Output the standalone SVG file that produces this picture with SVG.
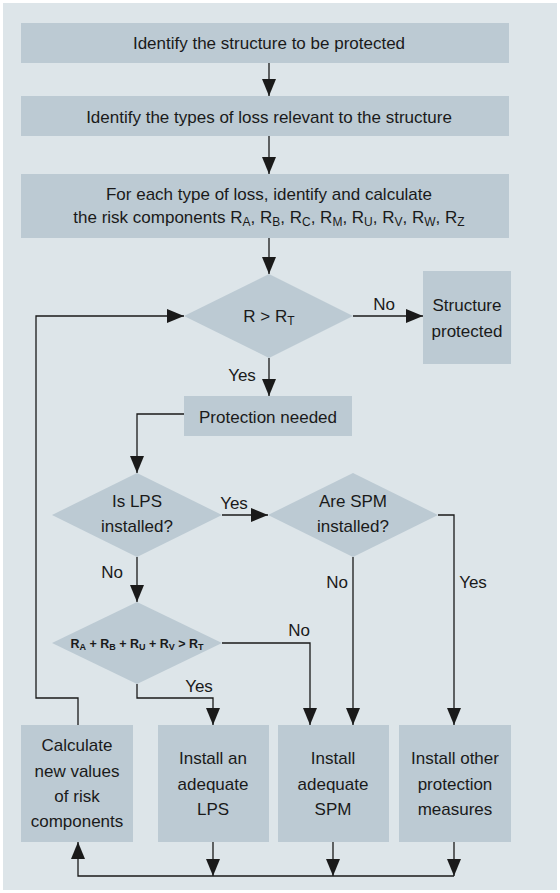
<svg xmlns="http://www.w3.org/2000/svg" width="560" height="893" viewBox="0 0 560 893">
<style>
.box{fill:#bccad3}
.t{font-family:"Liberation Sans",Arial,sans-serif;font-size:17px;fill:#1a1a1a;text-anchor:middle}
.f{font-family:"Liberation Sans",Arial,sans-serif;font-size:12.5px;font-weight:bold;fill:#1a1a1a;text-anchor:middle}
.ln{fill:none;stroke:#1a1a1a;stroke-width:1.3}
.a{marker-end:url(#ah)}
</style>
<defs>
<marker id="ah" markerUnits="userSpaceOnUse" markerWidth="17" markerHeight="14" refX="17" refY="7" orient="auto">
<path d="M0,0 L17,7 L0,14 z" fill="#1a1a1a"/>
</marker>
</defs>
<rect x="3" y="3" width="554" height="887" fill="#dde5e9"/>

<g id="n1"><rect class="box" x="21" y="23" width="488" height="40"/>
<text class="t" x="269" y="49">Identify the structure to be protected</text></g>
<g id="n2"><rect class="box" x="21" y="96" width="488" height="40"/>
<text class="t" x="269" y="123">Identify the types of loss relevant to the structure</text></g>
<g id="n3"><rect class="box" x="21" y="174" width="488" height="64"/>
<text class="t" x="269" y="200">For each type of loss, identify and calculate</text>
<text class="t" x="269" y="223">the risk components R<tspan font-size="12" dy="3">A</tspan><tspan dy="-3">, R</tspan><tspan font-size="12" dy="3">B</tspan><tspan dy="-3">, R</tspan><tspan font-size="12" dy="3">C</tspan><tspan dy="-3">, R</tspan><tspan font-size="12" dy="3">M</tspan><tspan dy="-3">, R</tspan><tspan font-size="12" dy="3">U</tspan><tspan dy="-3">, R</tspan><tspan font-size="12" dy="3">V</tspan><tspan dy="-3">, R</tspan><tspan font-size="12" dy="3">W</tspan><tspan dy="-3">, R</tspan><tspan font-size="12" dy="3">Z</tspan></text></g>
<g id="d1"><polygon class="box" points="269,274 353,316 269,358 184,316"/>
<text class="t" x="269" y="322">R &gt; R<tspan font-size="12" dy="3">T</tspan></text></g>
<g id="n4"><rect class="box" x="423" y="271" width="88" height="93"/>
<text class="t" x="467" y="311">Structure</text>
<text class="t" x="467" y="337">protected</text></g>
<g id="n5"><rect class="box" x="184" y="396" width="168" height="40"/>
<text class="t" x="268" y="423">Protection needed</text></g>
<g id="d2"><polygon class="box" points="137,473 222,515 137,557 52,515"/>
<text class="t" x="137" y="507">Is LPS</text>
<text class="t" x="137" y="532">installed?</text></g>
<g id="d3"><polygon class="box" points="353,473 438,515 353,557 268,515"/>
<text class="t" x="353" y="507">Are SPM</text>
<text class="t" x="353" y="532">installed?</text></g>
<g id="d4"><polygon class="box" points="137,602 222,643 137,684 52,643"/>
<text class="f" x="137" y="648">R<tspan font-size="9" dy="2">A</tspan><tspan dy="-2"> + R</tspan><tspan font-size="9" dy="2">B</tspan><tspan dy="-2"> + R</tspan><tspan font-size="9" dy="2">U</tspan><tspan dy="-2"> + R</tspan><tspan font-size="9" dy="2">V</tspan><tspan dy="-2"> &gt; R</tspan><tspan font-size="9" dy="2">T</tspan></text></g>
<g id="n6"><rect class="box" x="21" y="725" width="112" height="117"/>
<text class="t" x="77" y="751">Calculate</text>
<text class="t" x="77" y="777">new values</text>
<text class="t" x="77" y="802">of risk</text>
<text class="t" x="77" y="827">components</text></g>
<g id="n7"><rect class="box" x="158" y="725" width="111" height="117"/>
<text class="t" x="213" y="764">Install an</text>
<text class="t" x="213" y="790">adequate</text>
<text class="t" x="213" y="815">LPS</text></g>
<g id="n8"><rect class="box" x="278" y="725" width="111" height="117"/>
<text class="t" x="333" y="764">Install</text>
<text class="t" x="333" y="790">adequate</text>
<text class="t" x="333" y="815">SPM</text></g>
<g id="n9"><rect class="box" x="399" y="725" width="112" height="117"/>
<text class="t" x="455" y="764">Install other</text>
<text class="t" x="455" y="790">protection</text>
<text class="t" x="455" y="815">measures</text></g>

<g id="connectors">
<path class="ln a" d="M269,63 V96"/>
<path class="ln a" d="M269,136 V174"/>
<path class="ln a" d="M269,238 V274"/>
<path class="ln a" d="M353,316 H423"/>
<path class="ln a" d="M269,358 V396"/>
<path class="ln a" d="M184,414 H137 V473"/>
<path class="ln a" d="M222,515 H268"/>
<path class="ln a" d="M137,557 V602"/>
<path class="ln a" d="M438,515 H454 V725"/>
<path class="ln a" d="M353,557 V725"/>
<path class="ln a" d="M222,643 H310 V725"/>
<path class="ln a" d="M137,684 V698 H213 V725"/>
<path class="ln a" d="M78,725 V698 H36 V316 H184"/>
<path class="ln a" d="M213,842 V876"/>
<path class="ln a" d="M333,842 V876"/>
<path class="ln a" d="M454,842 V876"/>
<path class="ln a" d="M454,876 H78 V842"/>
</g>
<g id="labels">
<text class="t" x="384" y="310">No</text>
<text class="t" x="242" y="381">Yes</text>
<text class="t" x="234" y="509">Yes</text>
<text class="t" x="112" y="578">No</text>
<text class="t" x="337" y="588">No</text>
<text class="t" x="473" y="588">Yes</text>
<text class="t" x="299" y="636">No</text>
<text class="t" x="199" y="692">Yes</text>
</g>
</svg>
